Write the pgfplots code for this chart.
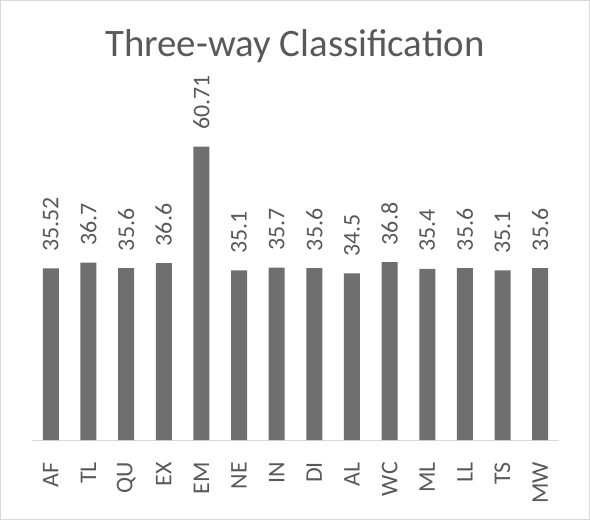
\documentclass[border=0pt]{standalone}
\usepackage{pgfplots}
\pgfplotsset{compat=1.18}
\usepackage{fontspec}
\setmainfont{Carlito}
\definecolor{barc}{HTML}{6F6F6F}
\definecolor{txtc}{HTML}{595959}
\definecolor{linec}{HTML}{D9D9D9}
\begin{document}
\begin{tikzpicture}
  \useasboundingbox (0,0) rectangle (590bp,520bp);
  \draw[linec, line width=1bp] (0.5bp,0.5bp) rectangle (589.5bp,519.5bp);
  % title
  \node[anchor=base, text=txtc, font=\fontsize{39}{44}\selectfont, inner sep=0pt]
    at (295bp,463bp) {Three-way Classification};
  \begin{axis}[
      at={(32bp,80bp)}, anchor=south west,
      scale only axis,
      width=527bp, height=314bp,
      xmin=-0.5, xmax=13.5,
      ymin=0, ymax=65,
      ybar, bar width=16bp,
      clip=false,
      hide y axis,
      axis x line*=bottom,
      x axis line style={draw=linec, line width=1bp},
      xtick=data,
      xtick style={draw=none},
      xticklabels={AF,TL,QU,EX,EM,NE,IN,DI,AL,WC,ML,LL,TS,MW},
      xticklabel style={rotate=90, anchor=east, text=txtc,
        font=\fontsize{24}{24}\selectfont,
        inner xsep=18bp, inner ysep=0pt, outer sep=0pt},
      /pgf/number format/assume math mode=true,
      nodes near coords,
      nodes near coords style={rotate=90, anchor=west, text=txtc,
        font=\fontsize{24}{24}\selectfont,
        inner xsep=17bp, inner ysep=0pt, outer sep=0pt},
    ]
    \addplot[fill=barc, draw=none] coordinates {
      (0, 35.52)
      (1, 36.7)
      (2, 35.6)
      (3, 36.6)
      (4, 60.71)
      (5, 35.1)
      (6, 35.7)
      (7, 35.6)
      (8, 34.5)
      (9, 36.8)
      (10, 35.4)
      (11, 35.6)
      (12, 35.1)
      (13, 35.6)
    };
  \end{axis}
\end{tikzpicture}
\end{document}
